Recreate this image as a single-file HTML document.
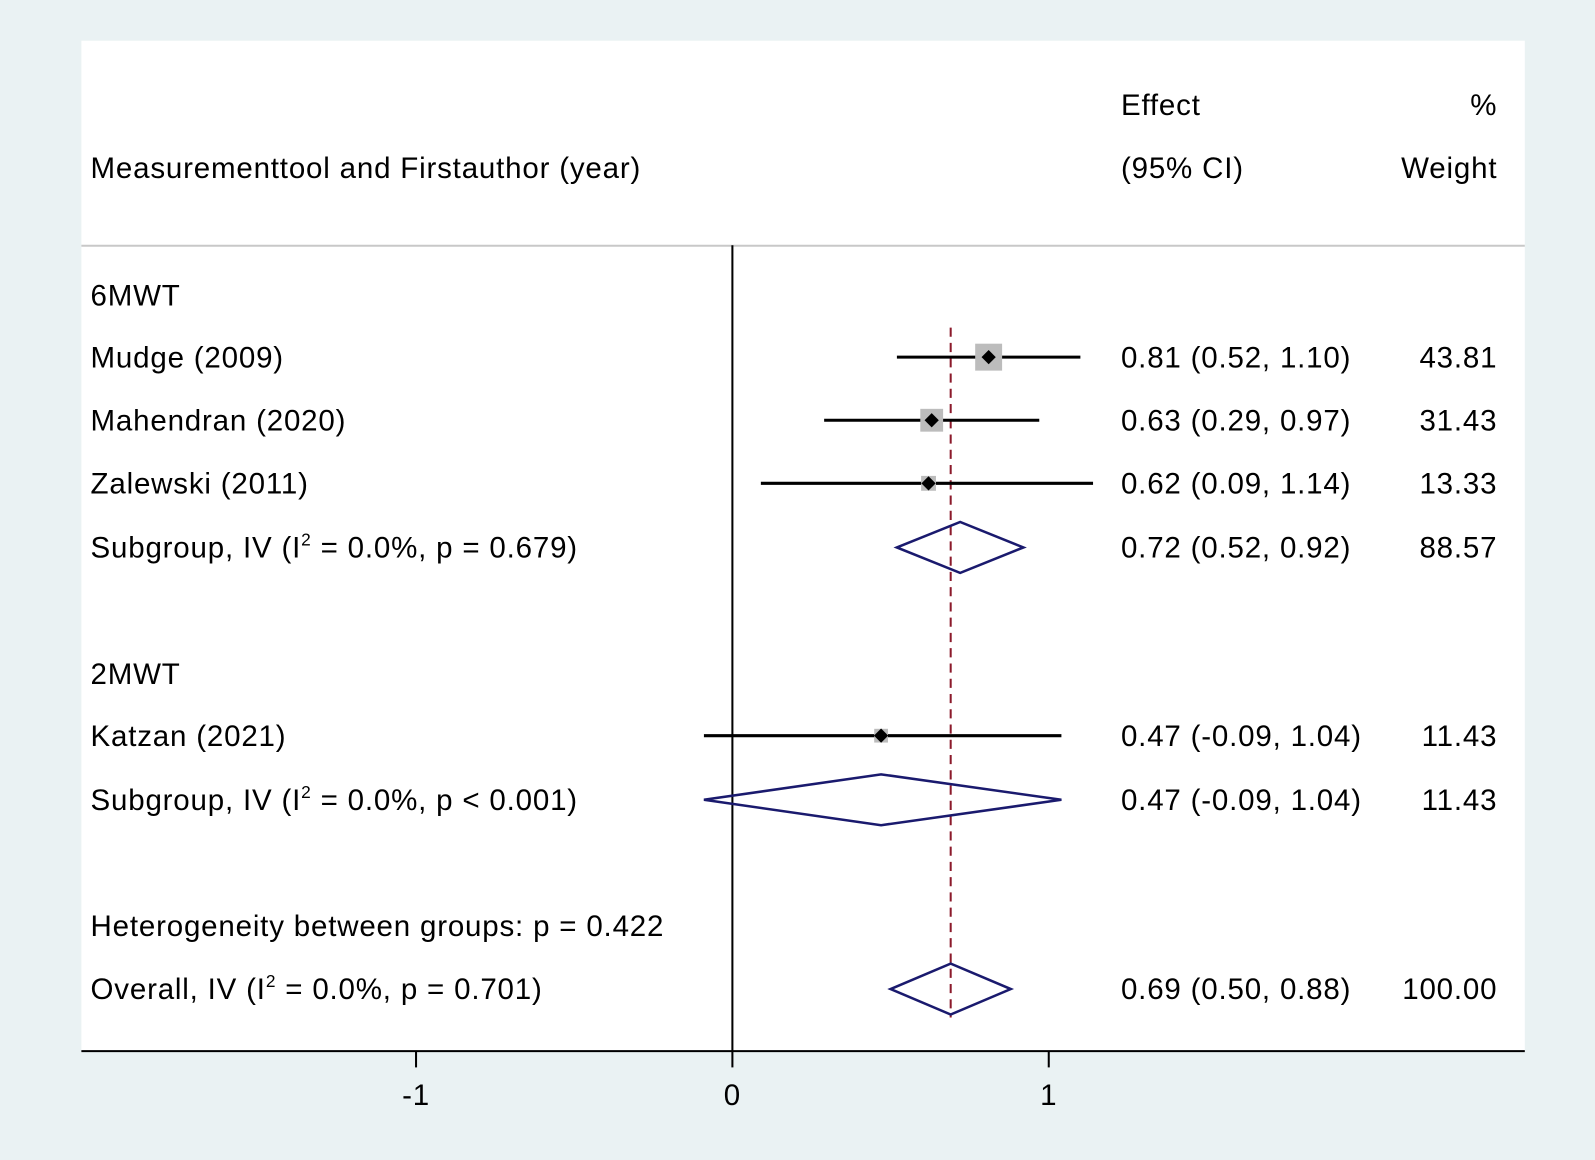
<!DOCTYPE html>
<html><head><meta charset="utf-8"><style>
html,body{margin:0;padding:0;background:#eaf2f3;}
svg{display:block;font-family:"Liberation Sans",Arial,sans-serif;}
</style></head><body>
<svg id="chart" width="1595" height="1160" viewBox="0 0 1568 1140" preserveAspectRatio="none" xmlns="http://www.w3.org/2000/svg">
<rect x="0" y="0" width="1568" height="1140" fill="#eaf2f3"/>
<rect x="80" y="40" width="1419" height="993" fill="#ffffff"/>
<line x1="80" y1="241.5" x2="1499" y2="241.5" stroke="#c8c8c8" stroke-width="2"/>
<g font-size="29" letter-spacing="0.8" fill="#000">
<text x="1102" y="113">Effect</text>
<text x="1472" y="113" text-anchor="end">%</text>
<text x="89" y="175">Measurementtool and Firstauthor (year)</text>
<text x="1102" y="175">(95% CI)</text>
<text x="1472" y="175" text-anchor="end">Weight</text>
</g>
<g id="marks"></g>
<g id="labels" font-size="29" letter-spacing="0.8" fill="#000"></g>
</svg>
<script>
const rowLabels = ["6MWT","Mudge (2009)","Mahendran (2020)","Zalewski (2011)","Subgroup, IV (I|2| = 0.0%, p = 0.679)","2MWT","Katzan (2021)","Subgroup, IV (I|2| = 0.0%, p < 0.001)","Heterogeneity between groups: p = 0.422","Overall, IV (I|2| = 0.0%, p = 0.701)"];
const rowTypes = ["head","study","study","study","pool","head","study","pool","text","pool"];
const rowY = [290,351,413,475,538,662,723,786,910,972];
const estimates = [null,0.81,0.63,0.62,0.72,null,0.47,0.47,null,0.69];
const lowerCI = [null,0.52,0.29,0.09,0.52,null,-0.09,-0.09,null,0.50];
const upperCI = [null,1.10,0.97,1.14,0.92,null,1.04,1.04,null,0.88];
const weights = [null,43.81,31.43,13.33,88.57,null,11.43,11.43,null,100.00];
const effectText = ["","0.81 (0.52, 1.10)","0.63 (0.29, 0.97)","0.62 (0.09, 1.14)","0.72 (0.52, 0.92)","","0.47 (-0.09, 1.04)","0.47 (-0.09, 1.04)","","0.69 (0.50, 0.88)"];
const weightText = ["","43.81","31.43","13.33","88.57","","11.43","11.43","","100.00"];
const xTicks = [-1,0,1];
const overallEffect = 0.69;

const NS="http://www.w3.org/2000/svg";
const x = v => 720 + v*311;
const marks=document.getElementById('marks'), labels=document.getElementById('labels');
function mk(tag,attrs,parent){const e=document.createElementNS(NS,tag);for(const k in attrs)e.setAttribute(k,attrs[k]);parent.appendChild(e);return e;}

let zl=mk('line',{x1:x(0),y1:241,x2:x(0),y2:1033,stroke:'#000','stroke-width':2},marks);


let ol=mk('line',{x1:x(overallEffect),y1:322,x2:x(overallEffect),y2:1000,stroke:'#8b1a2b','stroke-width':2,'stroke-dasharray':'9,6'},marks);


let ax=mk('line',{x1:80,y1:1033,x2:1499,y2:1033,stroke:'#000','stroke-width':2},marks);


xTicks.forEach(t=>{
  let tk=mk('line',{x1:x(t),y1:1033,x2:x(t),y2:1049,stroke:'#000','stroke-width':2},marks);
  
  
  let tl=mk('text',{x:x(t),y:1086,'text-anchor':'middle'},labels);
  tl.textContent = t<0?'-'+Math.abs(t):String(t);
  
  
});

rowLabels.forEach((lab,i)=>{
  const y=rowY[i];
  const t=mk('text',{x:89,y:y+10},labels);
  const parts=lab.split('|');
  parts.forEach((p,j)=>{
    const ts=mk('tspan',{},t);
    ts.textContent=p;
    if(j===1){ts.setAttribute('font-size','17');ts.setAttribute('dy','-12');}
    if(j===2){ts.setAttribute('dy','12');}
  });
  
  
  if(effectText[i]){
    const e=mk('text',{x:1102,y:y+10},labels);e.textContent=effectText[i];
    
    
    const w=mk('text',{x:1472,y:y+10,'text-anchor':'end'},labels);w.textContent=weightText[i];
    
    
  }
  if(rowTypes[i]==='study'){
    const ci=mk('line',{x1:x(lowerCI[i]),y1:y,x2:x(upperCI[i]),y2:y,stroke:'#000','stroke-width':3},marks);
    
    
    const s=Math.sqrt(weights[i])*4;
    const b=mk('rect',{x:x(estimates[i])-s/2,y:y-s/2,width:s,height:s,fill:'#bcbcbc'},marks);
    
    
    const cx=x(estimates[i]);
    const d=mk('polygon',{points:`${cx-7},${y} ${cx},${y-7} ${cx+7},${y} ${cx},${y+7}`,fill:'#000'},marks);
    
    
  } else if(rowTypes[i]==='pool'){
    const cx=x(estimates[i]);
    const d=mk('polygon',{points:`${x(lowerCI[i])},${y} ${cx},${y-25} ${x(upperCI[i])},${y} ${cx},${y+25}`,fill:'none',stroke:'#1a1a6e','stroke-width':2.5},marks);
    
    
  }
});
</script>
</body></html>
